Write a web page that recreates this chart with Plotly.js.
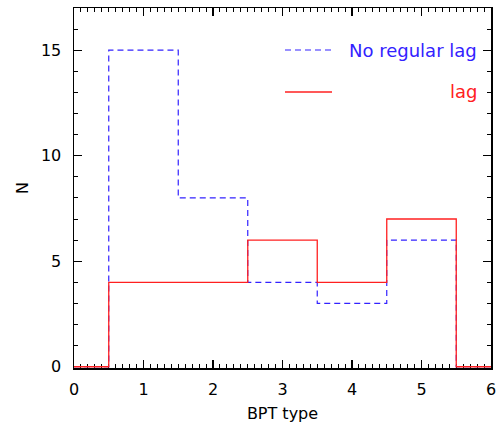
<!DOCTYPE html>
<html><head><meta charset="utf-8">
<script src="https://cdn.plot.ly/plotly-3.0.1.min.js"></script>
<style>html,body{margin:0;padding:0;background:#fff}#c{width:504px;height:423px}</style>
</head><body><div id="c"></div>
<script>
// BPT type bins (centers) and counts
const bptTypes = [1, 2, 3, 4, 5];
const noRegularLag = [15, 8, 4, 3, 6];
const lagCounts = [4, 4, 6, 4, 7];
const xTicks = [0, 1, 2, 3, 4, 5, 6];
const yTicks = [0, 5, 10, 15];

function stepXY(centers, vals) {
  const x = [0], y = [0];
  centers.forEach((c, i) => { x.push(c - 0.5); y.push(vals[i]); });
  x.push(centers[centers.length - 1] + 0.5); y.push(0);
  x.push(6); y.push(0);
  return {x, y};
}
const blue = '#3322ff', red = '#ff2020';
const b = stepXY(bptTypes, noRegularLag), r = stepXY(bptTypes, lagCounts);
const font = {family: 'DejaVu Sans, sans-serif', size: 16, color: '#000'};
const axBase = {
  showgrid: false, zeroline: false, showline: true, mirror: 'ticks',
  linecolor: '#000', linewidth: 1.5, ticks: 'inside', tickcolor: '#000',
  ticklen: 8, tickwidth: 1.2, tickfont: font, layer: 'below traces'
};
const data = [
  {x: b.x, y: b.y, mode: 'lines', line: {shape: 'hv', color: blue, width: 1.2, dash: '6px,4px'}, showlegend: false},
  {x: r.x, y: r.y, mode: 'lines', line: {shape: 'hv', color: red, width: 1.3}, showlegend: false}
];
const layout = {
  width: 504, height: 423,
  margin: {l: 74, r: 13, t: 8, b: 55},
  paper_bgcolor: '#fff', plot_bgcolor: '#fff',
  xaxis: Object.assign({}, axBase, {range: [0, 6], tickvals: xTicks, ticktext: xTicks.map(String), ticklabelstandoff: 6,
    minor: {dtick: 0.1, ticks: 'inside', ticklen: 4, tickcolor: '#000', tickwidth: 1},
    title: {text: 'BPT type', font: {family: font.family, size: 16, color: '#000'}, standoff: 10}}),
  yaxis: Object.assign({}, axBase, {range: [-0.06, 17], tickvals: yTicks, ticktext: yTicks.map(String), ticklabelstandoff: 8,
    minor: {dtick: 1, ticks: 'inside', ticklen: 4, tickcolor: '#000', tickwidth: 1},
    title: {text: 'N', font: {family: font.family, size: 16, color: '#000'}, standoff: 8}}),
  shapes: [
    {type: 'line', xref: 'paper', yref: 'paper', x0: (285-74)/417, x1: (332-74)/417, y0: (368-50)/360, y1: (368-50)/360,
     line: {color: blue, width: 1.2, dash: '6px,4px'}},
    {type: 'line', xref: 'paper', yref: 'paper', x0: (285-74)/417, x1: (332-74)/417, y0: (368-92)/360, y1: (368-92)/360,
     line: {color: red, width: 1.3}}
  ],
  annotations: [
    {xref: 'paper', yref: 'paper', x: (479-74)/417, y: (368-50)/360, xanchor: 'right', yanchor: 'middle', showarrow: false,
     text: 'No regular lag', font: {family: font.family, size: 18, color: blue}},
    {xref: 'paper', yref: 'paper', x: (479-74)/417, y: (368-92)/360, xanchor: 'right', yanchor: 'middle', showarrow: false,
     text: 'lag', font: {family: font.family, size: 18, color: red}}
  ]
};
Plotly.newPlot('c', data, layout, {staticPlot: true});
</script></body></html>
